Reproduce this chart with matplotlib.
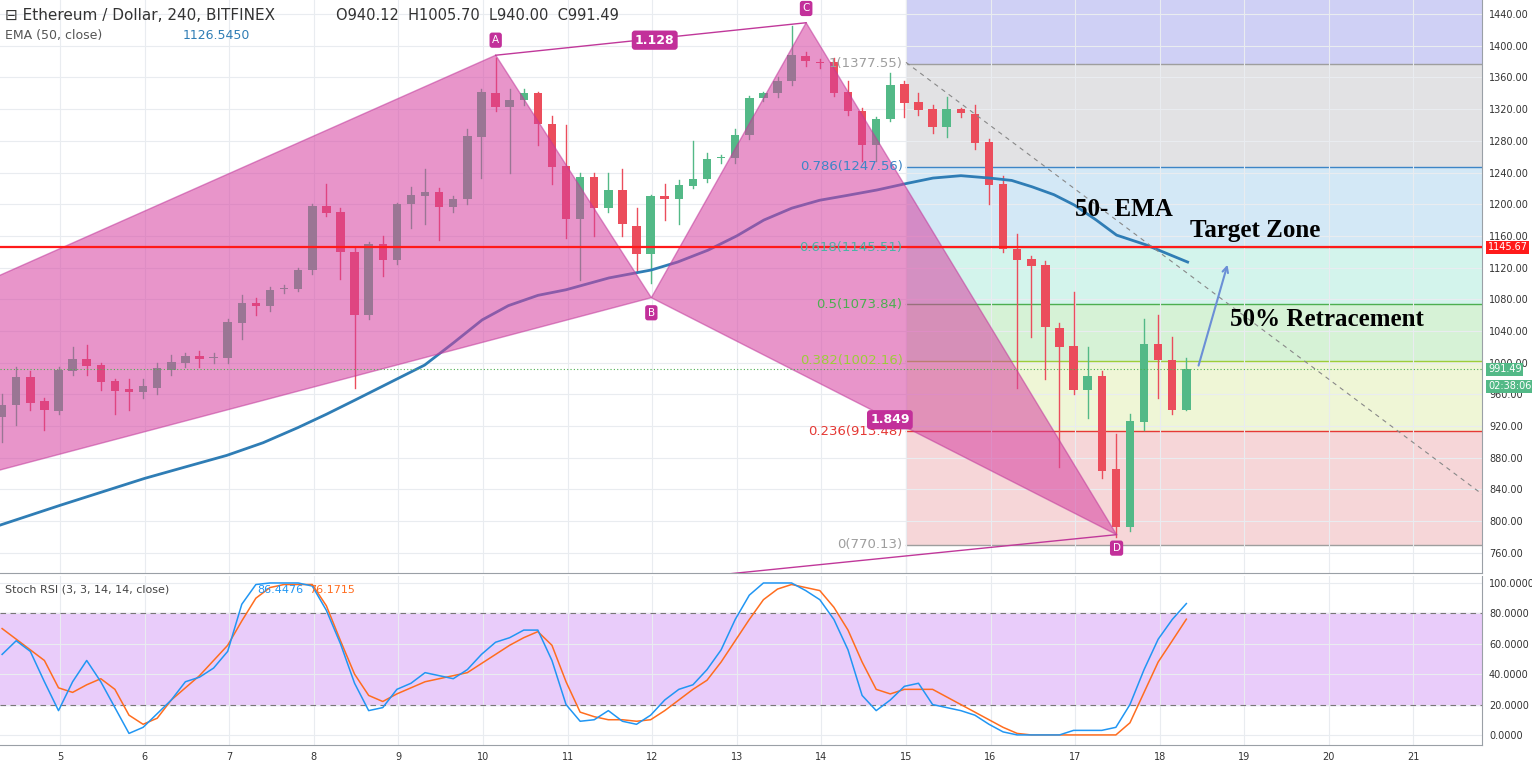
import matplotlib.pyplot as plt
from matplotlib.patches import Rectangle, Polygon

# 4h candles, ETH/USD
t0 = 4.315
step = 1 / 6
opens = [931, 947, 982, 952, 939, 990, 1005, 997, 977, 967, 963, 968, 991, 999, 1008, 1006, 1006, 1050, 1075, 1071,
         1093, 1093, 1117, 1198, 1190, 1140, 1060, 1150, 1130, 1200, 1210, 1215, 1196, 1207, 1285, 1340, 1323, 1331, 1340, 1301,
         1248, 1181, 1234, 1195, 1218, 1173, 1137, 1210, 1207, 1223, 1232, 1258, 1258, 1287, 1334, 1340, 1355, 1387, 1380, 1379,
         1341, 1318, 1275, 1308, 1352, 1329, 1320, 1298, 1320, 1314, 1278, 1225, 1143, 1131, 1123, 1044, 1021, 965, 983, 866,
         793, 925, 1024, 1003, 940.12]
highs = [960, 995, 990, 955, 995, 1020, 1022, 1000, 980, 980, 980, 1000, 1010, 1012, 1015, 1012, 1055, 1085, 1082, 1095,
         1098, 1120, 1200, 1225, 1195, 1145, 1152, 1160, 1202, 1222, 1245, 1220, 1210, 1295, 1345, 1385, 1345, 1345, 1342, 1311,
         1300, 1240, 1240, 1240, 1245, 1195, 1212, 1225, 1230, 1280, 1265, 1262, 1295, 1336, 1342, 1360, 1425, 1392, 1383, 1385,
         1355, 1322, 1310, 1365, 1356, 1340, 1325, 1335, 1322, 1325, 1282, 1235, 1163, 1135, 1128, 1050, 1089, 1020, 990, 910,
         935, 1055, 1060, 1033, 1005.70]
lows = [900, 921, 940, 915, 935, 985, 985, 965, 935, 940, 955, 960, 985, 995, 995, 1000, 1000, 1030, 1060, 1065,
         1088, 1090, 1112, 1185, 1105, 968, 1055, 1110, 1125, 1170, 1175, 1155, 1190, 1200, 1233, 1318, 1239, 1325, 1275, 1225,
         1157, 1104, 1160, 1190, 1160, 1115, 1100, 1180, 1175, 1220, 1228, 1252, 1252, 1282, 1330, 1335, 1350, 1375, 1372, 1336,
         1312, 1255, 1255, 1305, 1310, 1312, 1290, 1285, 1310, 1270, 1200, 1140, 968, 1032, 980, 868, 960, 930, 855, 780,
         788, 915, 955, 935, 940.00]
closes = [947, 982, 949, 940, 991, 1005, 996, 976, 964, 963, 970, 993, 1001, 1008, 1005, 1006, 1051, 1075, 1071, 1092,
          1093, 1117, 1198, 1189, 1140, 1060, 1150, 1130, 1200, 1212, 1215, 1197, 1206, 1286, 1342, 1323, 1331, 1340, 1301, 1247,
          1181, 1234, 1195, 1218, 1175, 1137, 1210, 1206, 1224, 1232, 1257, 1258, 1287, 1334, 1340, 1356, 1388, 1381, 1378, 1340,
          1318, 1275, 1308, 1351, 1328, 1319, 1298, 1320, 1315, 1277, 1224, 1143, 1130, 1122, 1045, 1020, 965, 983, 863, 793,
          926, 1024, 1004, 940, 991.49]

ema_days = [4.29, 5.0, 5.5, 6.0, 6.5, 6.97, 7.4, 7.81, 8.15, 8.49, 8.9, 9.31, 9.65, 9.99, 10.3, 10.65, 10.98, 11.49,
            11.99, 12.3, 12.66, 13.0, 13.32, 13.65, 13.98, 14.3, 14.66, 15.0, 15.32, 15.65, 15.99, 16.25, 16.49, 16.75,
            16.99, 17.25, 17.49, 17.83, 18.33]
ema_vals = [795, 820, 837, 854, 869, 883, 899, 918, 935, 953, 975, 997, 1025, 1054, 1072, 1085, 1092, 1107,
            1117, 1127, 1142, 1160, 1180, 1195, 1205, 1211, 1218, 1226, 1233, 1236, 1233, 1230, 1222, 1212,
            1199, 1180, 1161, 1149, 1127]

stoch_k = [53, 62, 55, 35, 16, 35, 49, 35, 18, 1, 5, 14, 23, 35, 38, 44, 55, 86, 99, 100,
           100, 100, 98, 82, 60, 34, 16, 18, 30, 34, 41, 39, 37, 43, 53, 61, 64, 69, 69, 49,
           20, 9, 10, 16, 9, 7, 13, 23, 30, 33, 43, 56, 76, 92, 100, 100, 100, 95, 89, 76,
           56, 26, 16, 23, 32, 34, 20, 18, 16, 13, 7, 2, 0, 0, 0, 0, 3, 3, 3, 5,
           20, 43, 63, 76, 86.4476]
stoch_d = [70, 63, 56, 49, 31, 28, 33, 37, 30, 13, 7, 11, 23, 31, 39, 49, 59, 75, 90, 97,
           99, 99, 99, 85, 62, 40, 26, 22, 27, 31, 35, 37, 39, 41, 47, 53, 59, 64, 68, 59,
           35, 15, 12, 10, 10, 9, 10, 16, 23, 30, 36, 48, 62, 76, 89, 96, 99, 97, 95, 84,
           69, 48, 30, 27, 30, 30, 30, 25, 20, 15, 10, 5, 1, 0, 0, 0, 0, 0, 0, 0,
           8, 28, 48, 62, 76.1715]

fib_ratios = ["1", "0.786", "0.618", "0.5", "0.382", "0.236", "0"]
fib_levels = [1377.55, 1247.56, 1145.51, 1073.84, 1002.16, 913.48, 770.13]
fib_line_colors = ["#9e9e9e", "#3d85c6", "#4bb3a6", "#4caf50", "#9ccc3a", "#e53935", "#9e9e9e"]
fib_fill_colors = ["#e2e2e4", "#d3e8f6", "#d3f4ec", "#d6f2d6", "#eff6d6", "#f6d6d8"]
fib_start = 15.0

pattern_pts = {"X": (-8.55, 502), "A": (10.15, 1388), "B": (11.99, 1082), "C": (13.82, 1429), "D": (17.49, 783)}
support_line = 1145.67
last_price = 991.49

GREEN, RED = "#53b987", "#eb4d5c"
GRID = "#e9ecf0"

fig = plt.figure(figsize=(15.32, 7.68), dpi=100)
ax = fig.add_axes([0, 0.254, 1482 / 1532, 0.746])
ax2 = fig.add_axes([0, 0.030, 1482 / 1532, 0.220], sharex=ax)
xmin, xmax = 4.29, 21.81
ax.set_xlim(xmin, xmax)
ax.set_ylim(734.7, 1457.7)
ax2.set_ylim(-6.6, 104.6)

for a in (ax, ax2):
    a.set_xticks(range(5, 22))
    a.grid(True, color=GRID, lw=0.8, zorder=0)
    a.yaxis.tick_right()
    a.tick_params(length=0, labelsize=7, labelcolor="#333333", pad=5)
    for s in a.spines.values():
        s.set_color("#9aa0a6")
    a.spines["left"].set_visible(False)
    a.spines["top"].set_visible(False)
ax.tick_params(labelbottom=False)
ax2.set_xticklabels([str(d) for d in range(5, 22)])
ax.set_yticks(range(760, 1441, 40))
ax.set_yticklabels([f"{v:.2f}" for v in range(760, 1441, 40)])
ax2.set_yticks(range(0, 101, 20))
ax2.set_yticklabels([f"{v:.4f}" for v in range(0, 101, 20)])

# fib retracement zones
ax.add_patch(Rectangle((fib_start, fib_levels[0]), 10, 200, color="#cfd0f5", zorder=0.5, lw=0))
for i in range(len(fib_levels) - 1):
    ax.add_patch(Rectangle((fib_start, fib_levels[i + 1]), 10, fib_levels[i] - fib_levels[i + 1],
                           color=fib_fill_colors[i], zorder=0.5, lw=0))
for r, lvl, c in zip(fib_ratios, fib_levels, fib_line_colors):
    ax.plot([fib_start, xmax], [lvl, lvl], color=c, lw=1, zorder=1)
    ax.text(fib_start - 0.04, lvl, f"{r}({lvl:.2f})", color=c, fontsize=9.5, ha="right", va="center", zorder=6)
ax.axvline(fib_start, color="#c8c8d8", lw=0.8, zorder=1)

# candles
for k, (o, h, l, c) in enumerate(zip(opens, highs, lows, closes)):
    x = t0 + k * step
    col = GREEN if c >= o else RED
    ax.plot([x, x], [l, h], color=col, lw=1, zorder=2)
    ax.add_patch(Rectangle((x - 0.05, min(o, c)), 0.10, max(abs(c - o), 1.5), color=col, zorder=2.1, lw=0))

# harmonic pattern
X, A, B, C, D = (pattern_pts[n] for n in "XABCD")
for tri in ([X, A, B], [B, C, D]):
    ax.add_patch(Polygon(tri, closed=True, facecolor="#d63fa0", alpha=0.55, edgecolor="#c0389a", lw=1, zorder=3))
ax.plot([A[0], C[0]], [A[1], C[1]], color="#c0389a", lw=1, zorder=3)
ax.plot([X[0], D[0]], [X[1], D[1]], color="#c0389a", lw=1, zorder=3)
box = dict(boxstyle="round,pad=0.25", fc="#c2309a", ec="none")
for name, (px, py) in (("A", (A[0], 1407)), ("B", (B[0], 1063)), ("C", (C[0], 1447)), ("D", (D[0], 766))):
    ax.text(px, py, name, color="white", fontsize=7.5, ha="center", va="center", bbox=box, zorder=7)
ax.text(12.03, 1407, "1.128", color="white", fontsize=9, fontweight="bold", ha="center", va="center", bbox=box, zorder=7)
ax.text(14.81, 928, "1.849", color="white", fontsize=9, fontweight="bold", ha="center", va="center", bbox=box, zorder=7)

ax.plot(ema_days, ema_vals, color="#2f7db5", lw=2, zorder=2.5)

ax.axhline(support_line, color="#ff1a1a", lw=1.6, zorder=4)
ax.axhline(last_price, color="#4caf50", lw=0.8, ls=(0, (1, 2)), zorder=4)
ax.plot([15.0, 22.35], [1379, 791], color="#888888", lw=0.8, ls=(0, (4, 4)), zorder=4)
ax.annotate("", xy=(18.81, 1127), xytext=(18.45, 993),
            arrowprops=dict(arrowstyle="->", color="#6b8fd6", lw=1.5), zorder=6)

serif = dict(family="Liberation Serif", fontweight="bold", color="black", fontsize=18, zorder=8, va="center")
ax.text(17.0, 1193, "50- EMA", **serif)
ax.text(18.36, 1167, "Target Zone", **serif)
ax.text(18.83, 1054, "50% Retracement", **serif)

# right axis price tags
def tag(axis, y, txt, col):
    axis.text(1.004, y, txt, transform=axis.get_yaxis_transform(), color="white", fontsize=7,
              va="center", ha="left", bbox=dict(boxstyle="square,pad=0.15", fc=col, ec="none"), zorder=9, clip_on=False)

tag(ax, support_line, "1145.67", "#ff1a1a")
tag(ax, last_price, "991.49", "#53b987")
tag(ax, 970, "02:38:06", "#53b987")

# stochastic RSI
xs = [t0 + k * step for k in range(len(stoch_k))]
ax2.axhspan(20, 80, color="#e9ccfa", zorder=0.5)
ax2.axhline(80, color="#777777", lw=0.8, ls=(0, (5, 4)))
ax2.axhline(20, color="#777777", lw=0.8, ls=(0, (5, 4)))
ax2.plot(xs, stoch_d, color="#ff6d1f", lw=1.1, zorder=3)
ax2.plot(xs, stoch_k, color="#2196f3", lw=1.1, zorder=3)

# header texts
fig.text(0.003, 0.980, "⊟ Ethereum / Dollar, 240, BITFINEX", fontsize=11, color="#333333", va="center")
fig.text(0.219, 0.980, "O940.12  H1005.70  L940.00  C991.49", fontsize=10.5, color="#333333", va="center")
fig.text(0.003, 0.954, "EMA (50, close)", fontsize=9, color="#555555", va="center")
fig.text(0.119, 0.954, "1126.5450", fontsize=9, color="#2f7db5", va="center")
fig.text(0.003, 0.232, "Stoch RSI (3, 3, 14, 14, close)", fontsize=8, color="#444444", va="center")
fig.text(0.168, 0.232, "86.4476", fontsize=8, color="#2196f3", va="center")
fig.text(0.202, 0.232, "76.1715", fontsize=8, color="#ff6d1f", va="center")

fig.savefig("out.png", dpi=100)
